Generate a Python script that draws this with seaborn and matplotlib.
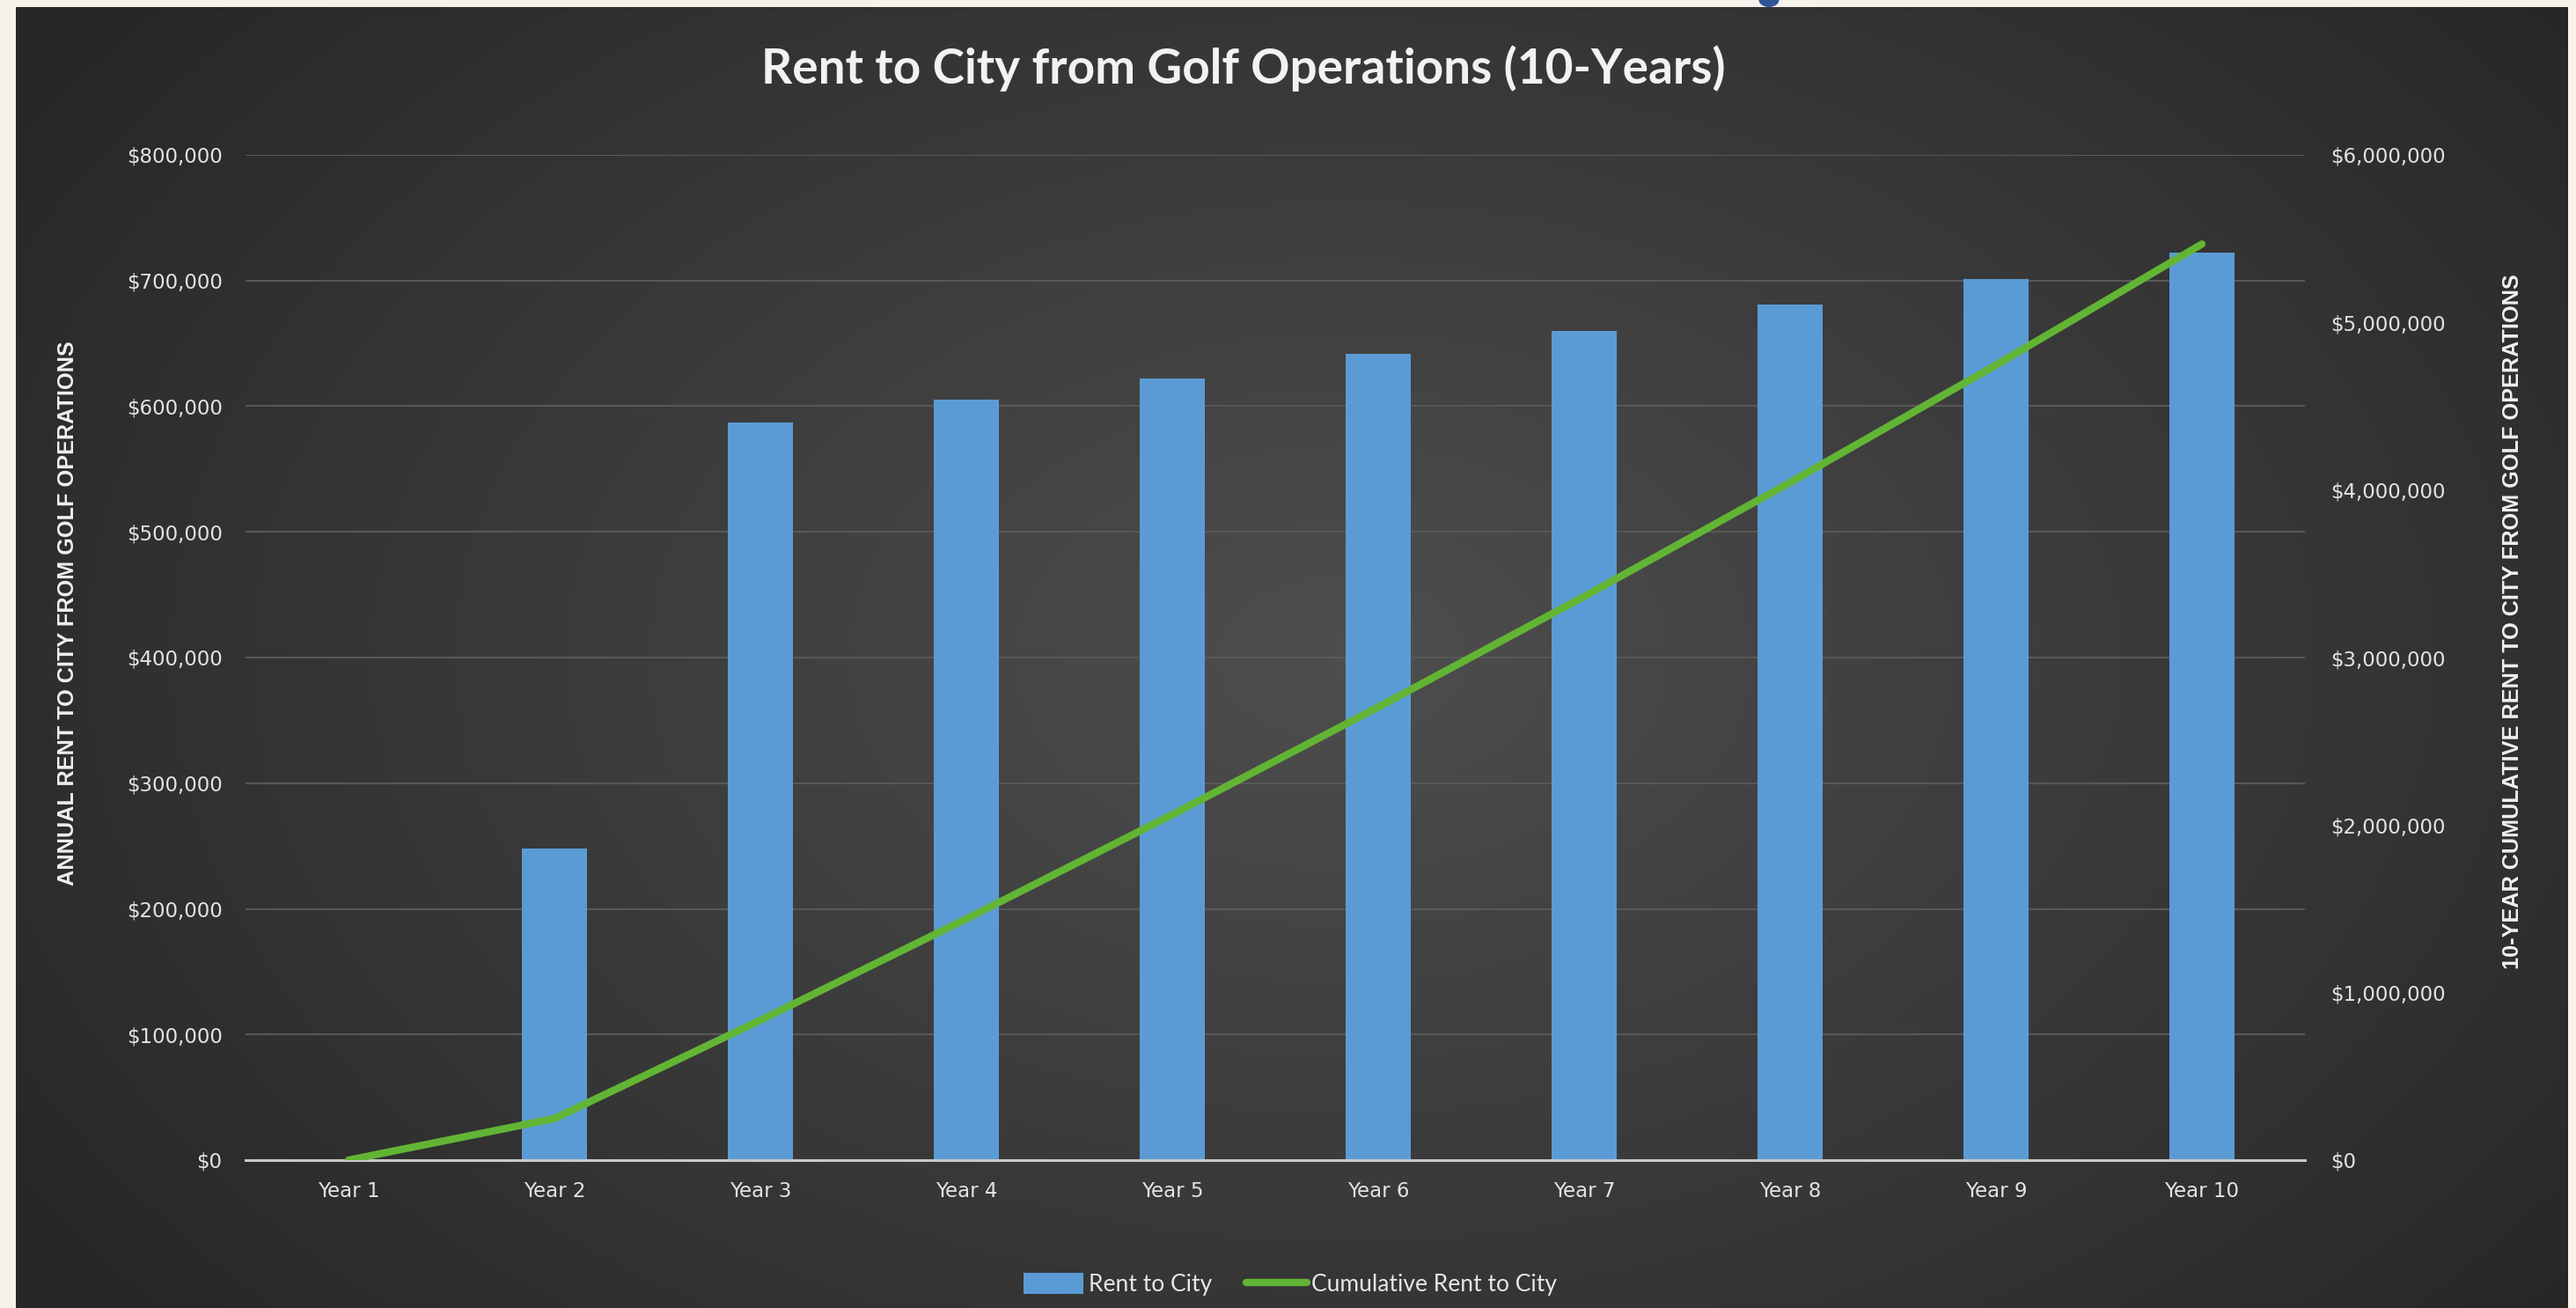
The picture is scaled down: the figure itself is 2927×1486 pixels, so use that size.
import numpy as np
import pandas as pd
import matplotlib
matplotlib.use("Agg")
import matplotlib.pyplot as plt
import seaborn as sns
from matplotlib.ticker import FuncFormatter
from matplotlib.patches import Patch, Ellipse
from matplotlib.lines import Line2D
from matplotlib.colors import LinearSegmentedColormap

# data
years = ['Year 1', 'Year 2', 'Year 3', 'Year 4', 'Year 5',
         'Year 6', 'Year 7', 'Year 8', 'Year 9', 'Year 10']
rent = [0, 248000, 587000, 605000, 622000, 642000, 660000, 681000, 701000, 722000]
cumulative = np.cumsum(rent)

left_ticks = list(range(0, 800001, 100000))
right_ticks = list(range(0, 6000001, 1000000))

df = pd.DataFrame({'Year': years, 'Rent': rent, 'Cumulative': cumulative})

sns.set_theme(style='dark')
plt.rcParams['font.family'] = ['DejaVu Sans']

W, H = 2927, 1486
fig = plt.figure(figsize=(W / 100, H / 100), dpi=100)
fig.patch.set_facecolor('#f6f2ea')

# dark gradient panel behind the chart
bg = fig.add_axes([18 / W, 0, 2900 / W, 1478 / H])
yy, xx = np.mgrid[0:1:300j, 0:1:600j]
r = np.sqrt(((xx - 0.52) / 0.62) ** 2 + ((yy - 0.5) / 0.8) ** 2)
shade = np.clip(1 - r, 0, 1)
bg_cmap = LinearSegmentedColormap.from_list('bgc', ['#272727', '#4e4e4e'])
bg.imshow(shade, cmap=bg_cmap, aspect='auto', extent=[0, 1, 0, 1], origin='lower')
bg.axis('off')

# small blue mark on top edge
fig.patches.append(Ellipse((2010 / W, 1), 23 / W, 16 / H, transform=fig.transFigure,
                           facecolor='#2f5597', edgecolor='none'))

ax = fig.add_axes([279 / W, 1 - 1318 / H, 2340 / W, (1318 - 176) / H])
ax.set_facecolor('none')
sns.barplot(data=df, x='Year', y='Rent', color='#5b9bd5', saturation=1,
            width=0.32, edgecolor='none', linewidth=0, ax=ax)

ax2 = ax.twinx()
sns.lineplot(x=np.arange(len(years)), y=df['Cumulative'], color='#62b534',
             linewidth=6, ax=ax2)

ax.set_xlim(-0.5, len(years) - 0.5)
ax.set_ylim(0, 800000)
ax2.set_ylim(0, 6000000)
ax.set_yticks(left_ticks)
ax2.set_yticks(right_ticks)

money = FuncFormatter(lambda v, p: f'${v:,.0f}')
ax.yaxis.set_major_formatter(money)
ax2.yaxis.set_major_formatter(money)

ax.set_axisbelow(True)
ax.yaxis.grid(True, color='#585858', linewidth=1.5)
ax.xaxis.grid(False)
ax2.grid(False)

for a in (ax, ax2):
    for s in a.spines.values():
        s.set_visible(False)
ax.spines['bottom'].set_visible(True)
ax.spines['bottom'].set_color('#c9c9c9')
ax.spines['bottom'].set_linewidth(2.2)

ax.set_xlabel('')
ax.set_ylabel('')
ax2.set_ylabel('')
ax.tick_params(axis='x', length=0, colors='#e3e3e3', labelsize=16.5, pad=17)
ax.tick_params(axis='y', length=0, colors='#e3e3e3', labelsize=16.5, pad=19)
ax2.tick_params(axis='y', length=0, colors='#e3e3e3', labelsize=16.5, pad=21)

fig.text(1413 / W, 1 - 78 / H, 'Rent to City from Golf Operations (10-Years)',
         ha='center', va='center', fontsize=39.5, fontweight='bold',
         family=['Lato', 'DejaVu Sans'], color='#f2f2f2')

lab_font = ['Liberation Sans', 'DejaVu Sans']
fig.text(77 / W, 1 - 697 / H, 'ANNUAL RENT TO CITY FROM GOLF OPERATIONS',
         rotation=90, ha='center', va='center', fontsize=18.2, fontweight='bold',
         family=lab_font, color='#f0f0f0')
fig.text(2855 / W, 1 - 706 / H, '10-YEAR CUMULATIVE RENT TO CITY FROM GOLF OPERATIONS',
         rotation=90, ha='center', va='center', fontsize=18.2, fontweight='bold',
         family=lab_font, color='#f0f0f0')

handles = [Patch(facecolor='#5b9bd5', edgecolor='none'),
           Line2D([], [], color='#62b534', linewidth=6)]
fig.legend(handles, ['Rent to City', 'Cumulative Rent to City'],
           loc='center', bbox_to_anchor=(1466 / W, 1 - 1459 / H), ncol=2,
           frameon=False, prop={'family': ['Lato', 'DejaVu Sans'], 'size': 19},
           labelcolor='#e6e6e6', handlelength=2.6, handleheight=1.0,
           handletextpad=0.2, columnspacing=1.5)

fig.savefig('out.png', dpi=100, facecolor=fig.get_facecolor())
